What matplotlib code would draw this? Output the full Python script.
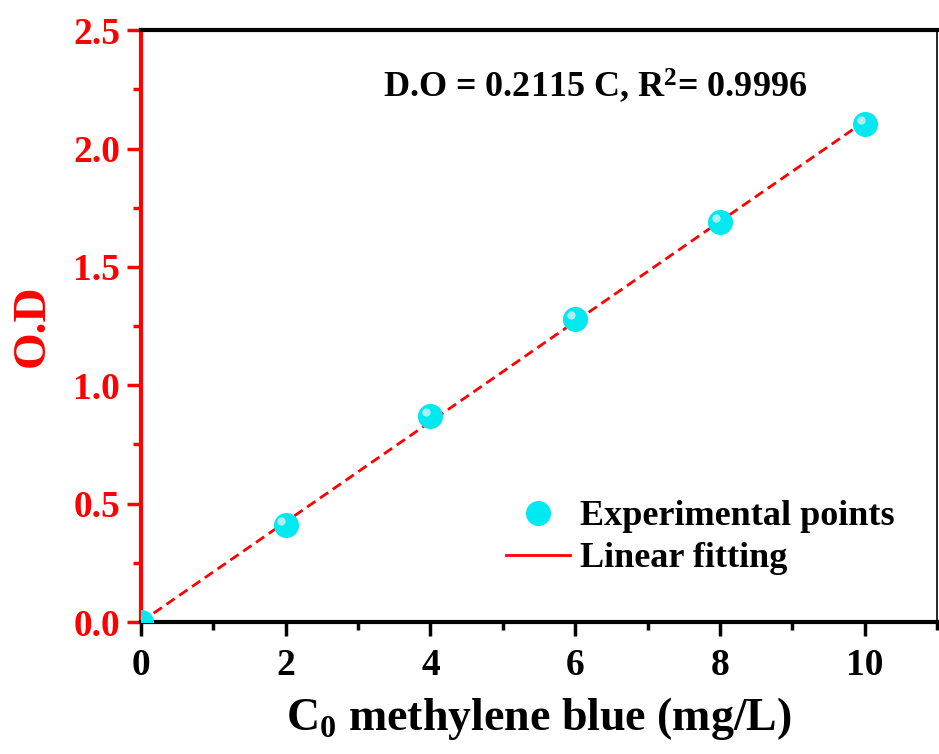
import numpy as np
import matplotlib
matplotlib.use("Agg")
import matplotlib.pyplot as plt
import matplotlib.transforms as mtransforms
from matplotlib.ticker import MultipleLocator
from matplotlib.lines import Line2D

# data
conc = [0, 2, 4, 6, 8, 10]
od = [0.0, 0.41, 0.87, 1.28, 1.69, 2.105]
slope = 0.2115
fit_x = np.array([0, 10])
fit_label = "D.O = 0.2115 C, R$\\mathbf{^2}$= 0.9996"

plt.rcParams['font.family'] = ['Liberation Serif', 'DejaVu Serif']
plt.rcParams['font.weight'] = 'bold'
plt.rcParams['mathtext.fontset'] = 'custom'
plt.rcParams['mathtext.rm'] = 'Liberation Serif:bold'
plt.rcParams['mathtext.bf'] = 'Liberation Serif:bold'

fig = plt.figure(figsize=(9.39, 7.54), dpi=100)
ax = fig.add_axes([0.150, 0.175, 0.848, 0.785])

# fit line
ax.plot(fit_x, slope * fit_x, '--', color='red', lw=2.0, dashes=(3.6, 2.0), zorder=2)
# points
ax.plot(conc, od, 'o', color='#00e8f0', ms=17, mec='#00e8f0', zorder=3)
# small highlight on each ball
shift = mtransforms.ScaledTranslation(-3 / 72, 3 / 72, fig.dpi_scale_trans)
ax.plot(conc, od, 'o', color='#cfeff5', ms=6, mew=0, alpha=0.85,
        transform=ax.transData + shift, zorder=4)

ax.set_xlim(0, 11)
ax.set_ylim(0, 2.5)
ax.xaxis.set_major_locator(MultipleLocator(2))
ax.xaxis.set_minor_locator(MultipleLocator(1))
ax.yaxis.set_major_locator(MultipleLocator(0.5))
ax.yaxis.set_minor_locator(MultipleLocator(0.25))
ax.set_xticks([0, 2, 4, 6, 8, 10])

ax.tick_params(axis='both', which='major', direction='out', length=10, width=2.5, labelsize=27, pad=5)
ax.tick_params(axis='x', which='major', pad=9)
ax.tick_params(axis='both', which='minor', direction='out', length=6, width=2.5)
ax.tick_params(axis='y', which='both', colors='red', labelcolor='red')
ax.tick_params(axis='x', which='both', colors='black')

for lab in ax.get_xticklabels() + ax.get_yticklabels():
    lab.set_fontweight('bold')

ax.spines['left'].set_color('red')
ax.spines['left'].set_linewidth(3)
ax.spines['bottom'].set_linewidth(3)
ax.spines['top'].set_linewidth(3)
ax.spines['right'].set_linewidth(1.2)

ax.set_xlabel('C$_\\mathbf{0}$ methylene blue (mg/L)', fontsize=33, fontweight='bold', labelpad=8)
ax.set_ylabel('O.D', fontsize=34, fontweight='bold', color='red', labelpad=14)

ax.text(0.570, 0.907, fit_label, transform=ax.transAxes, ha='center', va='center',
        fontsize=26, fontweight='bold')

# legend
handles = [Line2D([], [], marker='o', ls='none', color='#00e8f0', ms=17),
           Line2D([], [], color='red', lw=2.0)]
ax.legend(handles, ['Experimental points', 'Linear fitting'], loc='lower right',
          bbox_to_anchor=(0.979, 0.036), frameon=False, handlelength=1.75,
          handletextpad=0.3, labelspacing=0.25, borderpad=0.2,
          prop={'weight': 'bold', 'size': 26})

fig.savefig('out.png', dpi=100)
